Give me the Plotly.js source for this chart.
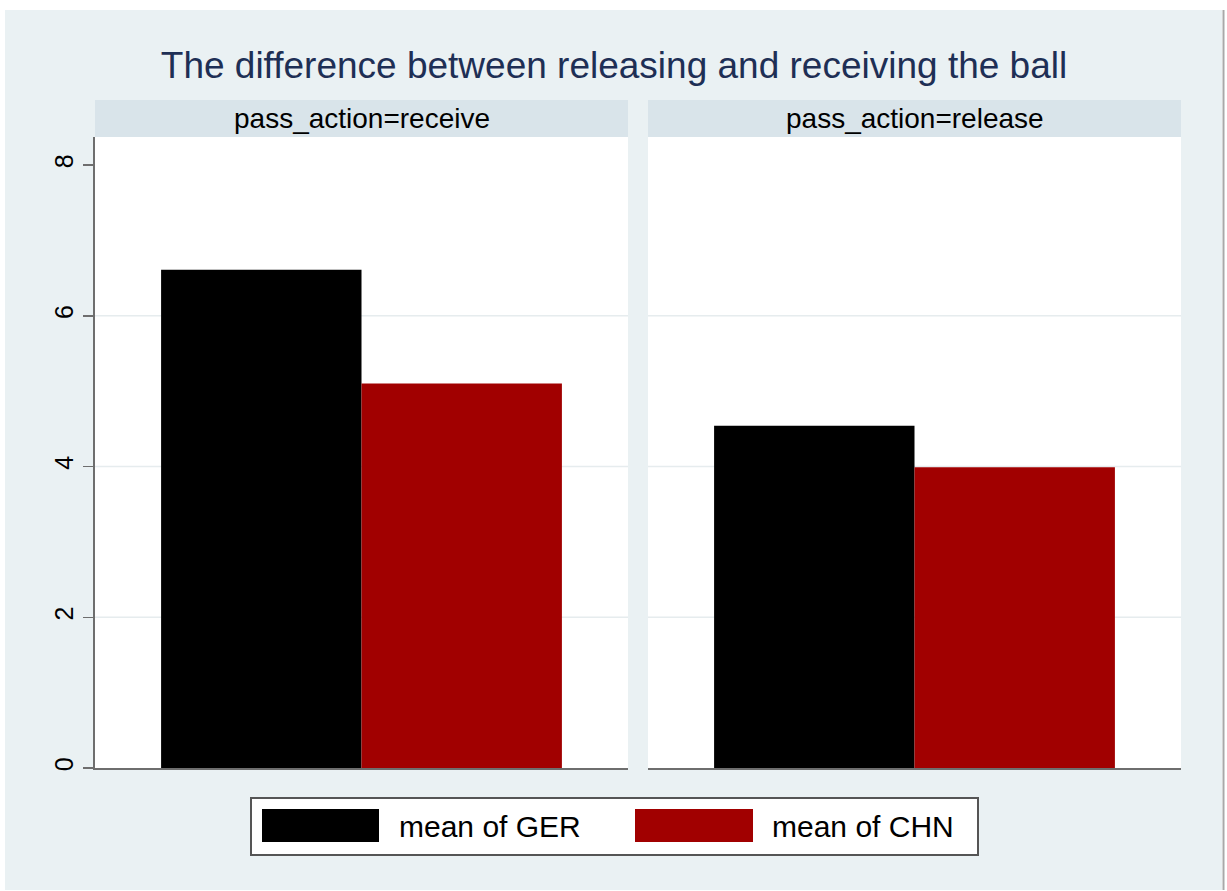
<!DOCTYPE html>
<html>
<head>
<meta charset="utf-8">
<script src="https://cdn.plot.ly/plotly-3.0.1.min.js"></script>
<style>html,body{margin:0;padding:0;background:#fff;}#chart{width:1227px;height:891px;}</style>
</head>
<body>
<div id="chart"></div>
<script>
// ---- data ----
const panels = ['pass_action=receive', 'pass_action=release'];
const seriesNames = ['mean of GER', 'mean of CHN'];
const gerValues = [6.61, 4.54];
const chnValues = [5.10, 3.99];
const yTickVals = [0, 2, 4, 6, 8];
const yTickText = ['0', '2', '4', '6', '8'];
const gridVals = [2, 4, 6];
const titleText = 'The difference between releasing and receiving the ball';

// ---- styles ----
const seriesColors = ['#000000', '#A10000'];
const bgColor = '#EAF1F3';
const stripColor = '#D9E4EA';
const font = 'Liberation Sans, Arial, sans-serif';

const W = 1227, H = 891;
const L = 95, R = 1181, T = 137, B = 768;
const pw = R - L, ph = B - T;
const px = v => (v - L) / pw;
const py = v => (B - v) / ph;

const values = [gerValues, chnValues];
const traces = [];
panels.forEach((p, i) => {
  seriesNames.forEach((s, j) => {
    traces.push({
      type: 'bar',
      x: [p],
      y: [values[j][i]],
      name: s,
      xaxis: i === 0 ? 'x' : 'x2',
      yaxis: 'y',
      marker: {color: seriesColors[j], line: {width: 0}},
      showlegend: false,
      hoverinfo: 'y'
    });
  });
});

const shapes = [];
const annotations = [];
// outer white edges & gray border line
shapes.push({type: 'rect', xref: 'paper', yref: 'paper', x0: px(0), x1: px(W), y0: py(0), y1: py(10), fillcolor: '#ffffff', line: {width: 0}});
shapes.push({type: 'rect', xref: 'paper', yref: 'paper', x0: px(0), x1: px(5), y0: py(H), y1: py(0), fillcolor: '#ffffff', line: {width: 0}});
shapes.push({type: 'rect', xref: 'paper', yref: 'paper', x0: px(1222), x1: px(W), y0: py(H), y1: py(0), fillcolor: '#ffffff', line: {width: 0}});
shapes.push({type: 'rect', xref: 'paper', yref: 'paper', x0: px(0), x1: px(W), y0: py(H), y1: py(890), fillcolor: '#ffffff', line: {width: 0}});
shapes.push({type: 'line', xref: 'paper', yref: 'paper', x0: px(1223.5), x1: px(1223.5), y0: py(890), y1: py(10), line: {color: '#A8A8A8', width: 2}});

// strips
const stripX = [[95, 628], [648, 1181]];
panels.forEach((p, i) => {
  shapes.push({type: 'rect', xref: 'paper', yref: 'paper', x0: px(stripX[i][0]), x1: px(stripX[i][1]), y0: py(137), y1: py(100), fillcolor: stripColor, line: {width: 0}});
  annotations.push({xref: 'paper', yref: 'paper', x: px((stripX[i][0] + stripX[i][1]) / 2), y: py(118.5), text: p, showarrow: false, xanchor: 'center', yanchor: 'middle', font: {family: font, size: 28, color: '#000000'}});
});

// gridlines
['x', 'x2'].forEach(xa => {
  gridVals.forEach(g => {
    shapes.push({type: 'line', xref: xa + ' domain', yref: 'y', x0: 0, x1: 1, y0: g, y1: g, layer: 'below', line: {color: '#E6ECEE', width: 1.5}});
  });
});

// legend (drawn manually to match wide swatches)
shapes.push({type: 'rect', xref: 'paper', yref: 'paper', x0: px(251), x1: px(978), y0: py(855), y1: py(798), fillcolor: '#ffffff', line: {color: '#555555', width: 2}});
const swX = [[262, 379], [635, 753]];
const txX = [397, 770];
seriesNames.forEach((s, j) => {
  shapes.push({type: 'rect', xref: 'paper', yref: 'paper', x0: px(swX[j][0]), x1: px(swX[j][1]), y0: py(842), y1: py(809), fillcolor: seriesColors[j], line: {width: 0}});
  annotations.push({xref: 'paper', yref: 'paper', x: px(txX[j]), y: py(826), text: s, showarrow: false, xanchor: 'left', yanchor: 'middle', font: {family: font, size: 30, color: '#000000'}});
});

const layout = {
  width: W, height: H,
  margin: {l: L, r: W - R, t: T, b: H - B, pad: 0},
  paper_bgcolor: bgColor,
  plot_bgcolor: '#ffffff',
  barmode: 'group',
  bargap: 0.248,
  bargroupgap: 0,
  showlegend: false,
  title: {text: titleText, xref: 'container', yref: 'container', x: 614 / W, xanchor: 'center', y: 1 - 65 / H, yanchor: 'middle', font: {family: font, size: 37, color: '#1E2F55'}},
  xaxis: {domain: [0, px(628)], anchor: 'y', showticklabels: false, ticks: '', showgrid: false, zeroline: false, showline: true, linecolor: '#6E6E6E', linewidth: 2, fixedrange: true},
  xaxis2: {domain: [px(648), 1], anchor: 'y', showticklabels: false, ticks: '', showgrid: false, zeroline: false, showline: true, linecolor: '#6E6E6E', linewidth: 2, fixedrange: true},
  yaxis: {range: [0, ph / 75.375], tickvals: yTickVals, ticktext: yTickText, tickangle: -90, ticks: 'outside', ticklen: 10, tickwidth: 1.5, tickcolor: '#6E6E6E', showgrid: false, zeroline: false, showline: true, linecolor: '#6E6E6E', linewidth: 2, tickfont: {family: font, size: 25, color: '#000000'}, fixedrange: true},
  shapes: shapes,
  annotations: annotations
};

Plotly.newPlot('chart', traces, layout, {displayModeBar: false, staticPlot: true});
</script>
</body>
</html>
